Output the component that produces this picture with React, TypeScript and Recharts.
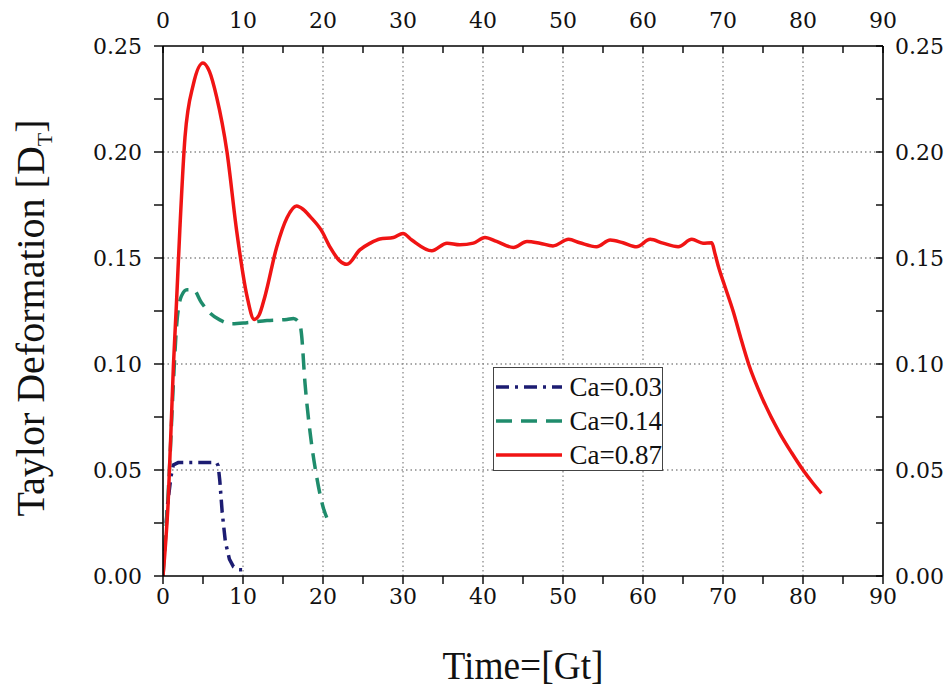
import React from "react";
import { LineChart, Line, XAxis, YAxis, ReferenceLine, Legend, Label } from "recharts";

const FONT = "'Liberation Serif', 'Times New Roman', serif";
const TICK_FONT = "'DejaVu Serif', 'Liberation Serif', serif";

const xTicks = [0, 5, 10, 15, 20, 25, 30, 35, 40, 45, 50, 55, 60, 65, 70, 75, 80, 85, 90];
const yTicks = [0, 0.025, 0.05, 0.075, 0.1, 0.125, 0.15, 0.175, 0.2, 0.225, 0.25];
const xGrid = [10, 20, 30, 40, 50, 60, 70, 80];
const yGrid = [0.05, 0.1, 0.15, 0.2];

// Ca=0.03
const ca003 = [
    { t: 0.4, d: 0.025 }, { t: 0.58, d: 0.034 }, { t: 1.0, d: 0.047 }, { t: 1.3, d: 0.0524 },
    { t: 1.9, d: 0.0535 }, { t: 4.0, d: 0.0535 }, { t: 6.7, d: 0.0535 }, { t: 6.9, d: 0.052 },
    { t: 7.1, d: 0.045 }, { t: 7.4, d: 0.03 }, { t: 7.8, d: 0.016 }, { t: 8.3, d: 0.008 },
    { t: 8.8, d: 0.0044 }, { t: 9.5, d: 0.003 }, { t: 10.3, d: 0.0028 }
];

// Ca=0.14
const ca014 = [
    { t: 0, d: 0 }, { t: 0.8, d: 0.05 }, { t: 1.3, d: 0.091 }, { t: 1.7, d: 0.118 },
    { t: 2.3, d: 0.132 }, { t: 3.0, d: 0.135 }, { t: 3.8, d: 0.135 }, { t: 4.8, d: 0.129 },
    { t: 5.9, d: 0.124 }, { t: 7.1, d: 0.1208 }, { t: 8.6, d: 0.119 }, { t: 10.5, d: 0.1195 },
    { t: 13.0, d: 0.1205 }, { t: 15.5, d: 0.121 }, { t: 16.3, d: 0.1215 }, { t: 17.1, d: 0.119 },
    { t: 17.3, d: 0.1145 }, { t: 17.75, d: 0.091 }, { t: 18.4, d: 0.0673 }, { t: 19.2, d: 0.047 },
    { t: 20.0, d: 0.0327 }, { t: 20.7, d: 0.0256 }
];

// Ca=0.87
const ca087 = [
    { t: 0, d: 0 }, { t: 0.66, d: 0.036 }, { t: 1.3, d: 0.099 }, { t: 1.7, d: 0.13 },
    { t: 2.1, d: 0.163 }, { t: 2.75, d: 0.207 }, { t: 3.8, d: 0.232 }, { t: 5.0, d: 0.242 },
    { t: 5.8, d: 0.238 }, { t: 6.7, d: 0.226 }, { t: 8.0, d: 0.2 }, { t: 9.2, d: 0.163 },
    { t: 10.5, d: 0.132 }, { t: 11.4, d: 0.121 }, { t: 12.0, d: 0.123 }, { t: 12.75, d: 0.132 },
    { t: 14.2, d: 0.155 }, { t: 15.5, d: 0.169 }, { t: 16.7, d: 0.1745 }, { t: 17.5, d: 0.173 },
    { t: 18.4, d: 0.1695 }, { t: 19.8, d: 0.163 }, { t: 20.9, d: 0.155 }, { t: 22.0, d: 0.149 },
    { t: 23.0, d: 0.147 }, { t: 24.6, d: 0.1538 }, { t: 25.9, d: 0.157 }, { t: 27.1, d: 0.159 },
    { t: 28.8, d: 0.1597 }, { t: 30.0, d: 0.1616 }, { t: 31.1, d: 0.1585 }, { t: 33.6, d: 0.1534 },
    { t: 35.5, d: 0.157 }, { t: 37.1, d: 0.1562 }, { t: 38.8, d: 0.157 }, { t: 40.25, d: 0.1597 },
    { t: 41.7, d: 0.1578 }, { t: 43.8, d: 0.155 }, { t: 45.5, d: 0.1578 }, { t: 47.1, d: 0.157 },
    { t: 48.75, d: 0.1557 }, { t: 50.7, d: 0.1588 }, { t: 52.1, d: 0.1572 }, { t: 54.2, d: 0.1553 },
    { t: 55.9, d: 0.1585 }, { t: 57.5, d: 0.1572 }, { t: 59.2, d: 0.1553 }, { t: 60.9, d: 0.1588 },
    { t: 62.5, d: 0.157 }, { t: 64.4, d: 0.1553 }, { t: 66.1, d: 0.1588 }, { t: 67.5, d: 0.157 },
    { t: 68.6, d: 0.1572 }, { t: 69.0, d: 0.152 }, { t: 69.5, d: 0.145 }, { t: 70.2, d: 0.137 },
    { t: 71.3, d: 0.1245 }, { t: 72.2, d: 0.1125 }, { t: 73.2, d: 0.1 }, { t: 75.0, d: 0.083 },
    { t: 77.1, d: 0.0673 }, { t: 78.6, d: 0.058 }, { t: 80.0, d: 0.05 }, { t: 81.2, d: 0.044 },
    { t: 82.3, d: 0.039 }
];

const series = [
    { name: "Ca=0.03", data: ca003, color: "#1c1c72", dash: "13 6 3 6", type: "linear" },
    { name: "Ca=0.14", data: ca014, color: "#1f8c6c", dash: "16 9", type: "monotone" },
    { name: "Ca=0.87", data: ca087, color: "#f01414", dash: undefined, type: "monotone" }
];

const isMajorX = (v: number) => v % 10 === 0;
const isMajorY = (v: number) => Math.round(v * 1000) % 50 === 0;

function TopTick(props: any) {
    const { x, y, payload } = props;
    const axisY = y + 7 + 11;
    return (
        <g>
            <line x1={x} x2={x} y1={axisY} y2={axisY + 7} stroke="#000" strokeWidth={1.4} />
            {isMajorX(payload.value) && (
                <text x={x} y={y} textAnchor="middle" fontFamily={TICK_FONT} fontSize={22} fill="#111">
                    {payload.value}
                </text>
            )}
        </g>
    );
}

function RightTick(props: any) {
    const { x, y, payload } = props;
    const axisX = x - 7 - 5;
    return (
        <g>
            <line x1={axisX - 7} x2={axisX} y1={y} y2={y} stroke="#000" strokeWidth={1.4} />
            {isMajorY(payload.value) && (
                <text x={x} y={y} dy="0.36em" textAnchor="start" fontFamily={TICK_FONT} fontSize={22} fill="#111">
                    {payload.value.toFixed(2)}
                </text>
            )}
        </g>
    );
}

function LegendBox() {
    return (
        <div
            style={{
                border: "1.3px solid #444",
                background: "white",
                width: 170,
                height: 104,
                boxSizing: "border-box",
                padding: "2px 0 0 2px",
                fontFamily: FONT,
                fontSize: 27,
                color: "#111"
            }}
        >
            {series.map((s) => (
                <div key={s.name} style={{ display: "flex", alignItems: "center", height: 34 }}>
                    <svg width={68} height={10}>
                        <line x1={0} x2={66} y1={5} y2={5} stroke={s.color} strokeWidth={3.5} strokeDasharray={s.dash} />
                    </svg>
                    <span style={{ marginLeft: 6, lineHeight: "30px" }}>{s.name}</span>
                </div>
            ))}
        </div>
    );
}

export default function App() {
    return (
        <div style={{ position: "absolute", left: 0, top: 0, background: "white" }}>
            <LineChart width={952} height={687} margin={{ top: 0, right: 0, bottom: 0, left: 0 }}>
                {xGrid.map((v) => (
                    <ReferenceLine key={"gx" + v} x={v} xAxisId="b" yAxisId="l" stroke="#8a8a8a" strokeWidth={1.3} strokeDasharray="1.5 3" />
                ))}
                {yGrid.map((v) => (
                    <ReferenceLine key={"gy" + v} y={v} xAxisId="b" yAxisId="l" stroke="#8a8a8a" strokeWidth={1.3} strokeDasharray="1.5 3" />
                ))}
                <XAxis
                    xAxisId="b"
                    orientation="bottom"
                    type="number"
                    dataKey="t"
                    domain={[0, 90]}
                    ticks={xTicks}
                    interval={0}
                    height={111}
                    tickSize={8}
                    tickMargin={4}
                    tickFormatter={(v: number) => (isMajorX(v) ? String(v) : "")}
                    tick={{ fontFamily: TICK_FONT, fontSize: 22, fill: "#111" }}
                    axisLine={{ stroke: "#000", strokeWidth: 1.6 }}
                    tickLine={{ stroke: "#000", strokeWidth: 1.4 }}
                    allowDataOverflow
                >
                    <Label
                        content={() => (
                            <text x={523} y={679} textAnchor="middle" fontFamily={FONT} fontSize={40} fill="#111" textLength={161} lengthAdjust="spacingAndGlyphs">
                                Time=[Gt]
                            </text>
                        )}
                    />
                </XAxis>
                <XAxis
                    xAxisId="t"
                    orientation="top"
                    type="number"
                    dataKey="t"
                    domain={[0, 90]}
                    ticks={xTicks}
                    interval={0}
                    height={46}
                    tickSize={7}
                    tickMargin={11}
                    tickLine={false}
                    tick={<TopTick />}
                    axisLine={{ stroke: "#000", strokeWidth: 1.6 }}
                    allowDataOverflow
                />
                <YAxis
                    yAxisId="l"
                    orientation="left"
                    type="number"
                    domain={[0, 0.25]}
                    ticks={yTicks}
                    interval={0}
                    width={163}
                    tickSize={9}
                    tickMargin={12}
                    tickFormatter={(v: number) => (isMajorY(v) ? v.toFixed(2) : "")}
                    tick={{ fontFamily: TICK_FONT, fontSize: 22, fill: "#111" }}
                    axisLine={{ stroke: "#000", strokeWidth: 1.6 }}
                    tickLine={{ stroke: "#000", strokeWidth: 1.4 }}
                    allowDataOverflow
                >
                    <Label
                        content={() => (
                            <text
                                transform="rotate(-90)"
                                x={-318}
                                y={44}
                                textAnchor="middle"
                                fontFamily={FONT}
                                fontSize={40}
                                fill="#111"
                            >
                                Taylor Deformation [D
                                <tspan dy={8} fontSize={22}>T</tspan>
                                <tspan dy={-8}>]</tspan>
                            </text>
                        )}
                    />
                </YAxis>
                <YAxis
                    yAxisId="r"
                    orientation="right"
                    type="number"
                    domain={[0, 0.25]}
                    ticks={yTicks}
                    interval={0}
                    width={69}
                    tickSize={7}
                    tickMargin={5}
                    tickLine={false}
                    tick={<RightTick />}
                    axisLine={{ stroke: "#000", strokeWidth: 1.6 }}
                    allowDataOverflow
                />
                {series.map((s) => (
                    <Line
                        key={s.name}
                        name={s.name}
                        data={s.data}
                        dataKey="d"
                        xAxisId="b"
                        yAxisId="l"
                        type={s.type as any}
                        stroke={s.color}
                        strokeWidth={3.5}
                        strokeDasharray={s.dash}
                        dot={false}
                        activeDot={false}
                        isAnimationActive={false}
                    />
                ))}
                <Legend
                    layout="horizontal"
                    verticalAlign="middle"
                    align="center"
                    content={() => <LegendBox />}
                    wrapperStyle={{ position: "absolute", left: 493, top: 367, width: 170, height: 104 }}
                />
            </LineChart>
        </div>
    );
}
